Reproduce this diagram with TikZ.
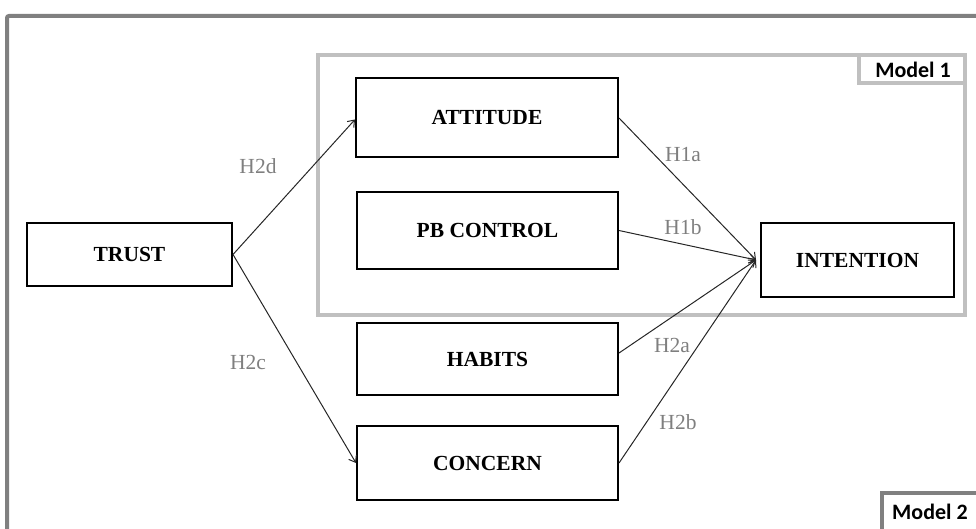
\documentclass[tikz,border=0pt]{standalone}
\usepackage{fontspec}
\setmainfont{Liberation Serif}
\newfontfamily\modelfont{Carlito}
\usetikzlibrary{arrows.meta}
\definecolor{framegray}{HTML}{808080}
\definecolor{lightframe}{HTML}{C0C0C0}
\definecolor{labelgray}{HTML}{7F7F7F}
\definecolor{arrowcol}{HTML}{262626}
\tikzset{
  constr/.style={draw=black, line width=2pt, fill=white, inner sep=0pt,
    font=\fontsize{21.5}{24}\selectfont\bfseries},
  hyp/.style={text=labelgray, font=\fontsize{21.5}{24}\selectfont, inner sep=0pt},
  link/.style={draw=arrowcol, line width=1pt, -{Straight Barb[length=6pt,width=9pt,line width=1pt]}},
  modeltag/.style={font=\modelfont\fontsize{22}{24}\selectfont\bfseries, inner sep=0pt}
}
\begin{document}
\begin{tikzpicture}[x=1pt,y=-1pt]
\useasboundingbox (0,0) rectangle (976,529);
\clip (0,0) rectangle (976,529);
% outer frame (Model 2)
\draw[framegray, line width=4pt, rounded corners=2pt] (7,16) rectangle (1000,560);
% Model 1 frame
\draw[lightframe, line width=4pt] (318,55.5) rectangle (965,315);
\draw[lightframe, line width=4pt] (859,55.5) rectangle (965,83);
\node[modeltag] (m1) at (913,70) {Model 1};
% Model 2 tag
\draw[framegray, line width=4pt, fill=white] (882,493) rectangle (1010,560);
\node[modeltag, anchor=base west] (m2) at (892,519) {Model 2};
% constructs
\node[constr, minimum width=205pt, minimum height=63pt] (trust) at (129.5,254.5) {TRUST};
\node[constr, minimum width=262pt, minimum height=79pt] (att) at (487,117.5) {ATTITUDE};
\node[constr, minimum width=261pt, minimum height=77pt] (pbc) at (487.5,230.5) {PB CONTROL};
\node[constr, minimum width=261pt, minimum height=72pt] (hab) at (487.5,359) {HABITS};
\node[constr, minimum width=261pt, minimum height=74pt] (con) at (487.5,463) {CONCERN};
\node[constr, minimum width=193pt, minimum height=74pt] (int) at (857.5,260) {INTENTION};
% links
\coordinate (tin) at (756,260);
\draw[link] (trust.east) -- ([yshift=-2pt]att.west);
\draw[link] (trust.east) -- (con.west);
\draw[link] ([yshift=-0.5pt]att.east) -- (tin);
\draw[link] (pbc.east) -- (tin);
\draw[link] ([yshift=6pt]hab.east) -- (tin);
\draw[link] (con.east) -- (tin);
% hypothesis labels
\node[hyp] (h2d) at (258,166) {H2d};
\node[hyp] (h2c) at (248,362) {H2c};
\node[hyp] (h1a) at (683,155) {H1a};
\node[hyp] (h1b) at (683,227) {H1b};
\node[hyp] (h2a) at (672,345) {H2a};
\node[hyp] (h2b) at (678,422) {H2b};
\end{tikzpicture}
\end{document}
